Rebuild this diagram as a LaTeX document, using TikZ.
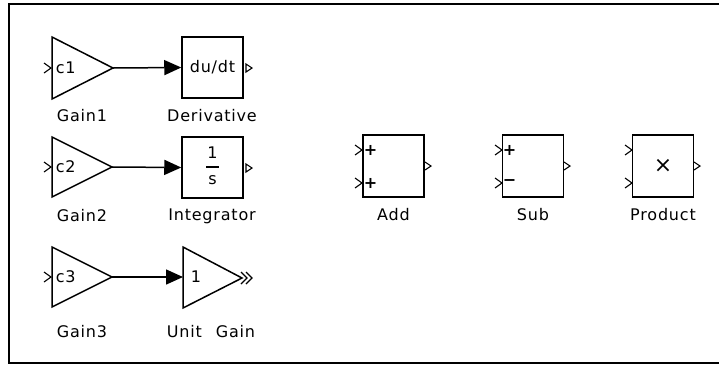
\documentclass[tikz,border=0pt]{standalone}
\usepackage{fontspec}
\setmainfont{DejaVu Sans}[LetterSpace=5.0]
\usetikzlibrary{arrows.meta}
\begin{document}
\begin{tikzpicture}[x=1pt,y=-1pt,line width=1.5pt,
  font=\fontsize{16}{19}\selectfont,
  blk/.style={draw,minimum width=61pt,minimum height=61pt,inner sep=0pt},
  lbl/.style={inner sep=0pt},
  port/.style={line width=1.1pt},
  sig/.style={-{Triangle[length=17pt,width=15pt]}}]
  \useasboundingbox (0,0) rectangle (719,365);
  % frame
  \draw[line width=2.2pt] (720,4) -- (9,4) -- (9,363) -- (720,363);
  % gains
  \draw (52,37) -- (113,68) -- (52,99) -- cycle;
  \coordinate (g1out) at (113,68);
  \node[lbl,anchor=west] (c1) at (55,68) {c1};
  \draw[port] (44,63) -- (51,68) -- (44,73);
  \node[lbl] (gain1) at (82,116) {Gain1};
  \draw (52,137) -- (112,167) -- (52,197) -- cycle;
  \coordinate (g2out) at (112,167);
  \node[lbl,anchor=west] (c2) at (55,167) {c2};
  \draw[port] (44,162) -- (51,167) -- (44,172);
  \node[lbl] (gain2) at (82,216) {Gain2};
  \draw (52,247) -- (112,277) -- (52,307) -- cycle;
  \coordinate (g3out) at (112,277);
  \node[lbl,anchor=west] (c3) at (55,277) {c3};
  \draw[port] (44,272) -- (51,277) -- (44,282);
  \node[lbl] (gain3) at (82,332) {Gain3};
  % derivative, integrator, unit gain
  \node[blk] (deriv) at (212.5,67.5) {du/dt};
  \draw[port] (246,64) -- (252,68) -- (246,72) -- cycle;
  \node[lbl] (derivlbl) at (212,116) {Derivative};
  \node[blk] (integ) at (212.5,167.5) {};
  \node[lbl] (num) at (212.5,153) {1};
  \draw[port] (206,167) -- (219,167);
  \node[lbl] (den) at (212.5,180) {s};
  \draw[port] (246,164) -- (252,168) -- (246,172) -- cycle;
  \node[lbl] (integlbl) at (212,216) {Integrator};
  \draw (183,247) -- (242,278) -- (183,308) -- cycle;
  \node[lbl,anchor=west] (one) at (190,277) {1};
  \draw[port] (241,272) -- (247,278) -- (241,284);
  \draw[port] (246,272) -- (252,278) -- (246,284);
  \node[lbl] (unitlbl) at (211,332) {Unit\hspace{14pt}Gain};
  % signals
  \draw[sig] (g1out) -- (deriv.west);
  \draw[sig] (g2out) -- (integ.west);
  \draw[sig] (g3out) -- (183,277);
  % add, sub, product
  \node[blk,minimum height=62pt] (add) at (393.5,166) {};
  \node[lbl] (addp1) at (371,150) {\textbf{+}};
  \node[lbl] (addp2) at (371,183) {\textbf{+}};
  \draw[port] (355,145) -- (362,150) -- (355,155);
  \draw[port] (355,178) -- (362,183) -- (355,188);
  \draw[port] (425,162) -- (431,166) -- (425,170);
  \node[lbl] (addlbl) at (393.5,215) {Add};
  \node[blk,minimum height=62pt] (sub) at (533,166) {};
  \node[lbl] (subp) at (510,150) {\textbf{+}};
  \node[lbl] (subm) at (510,183) {\textbf{−}};
  \draw[port] (495,145) -- (502,150) -- (495,155);
  \draw[port] (495,178) -- (502,183) -- (495,188);
  \draw[port] (564,162) -- (570,166) -- (564,170);
  \node[lbl] (sublbl) at (533,215) {Sub};
  \node[blk,minimum height=62pt] (prod) at (663,166) {\fontsize{22}{22}\selectfont ×};
  \draw[port] (625,145) -- (632,150) -- (625,155);
  \draw[port] (625,178) -- (632,183) -- (625,188);
  \draw[port] (694,162) -- (700,166) -- (694,170);
  \node[lbl] (prodlbl) at (663,215) {Product};
\end{tikzpicture}
\end{document}
